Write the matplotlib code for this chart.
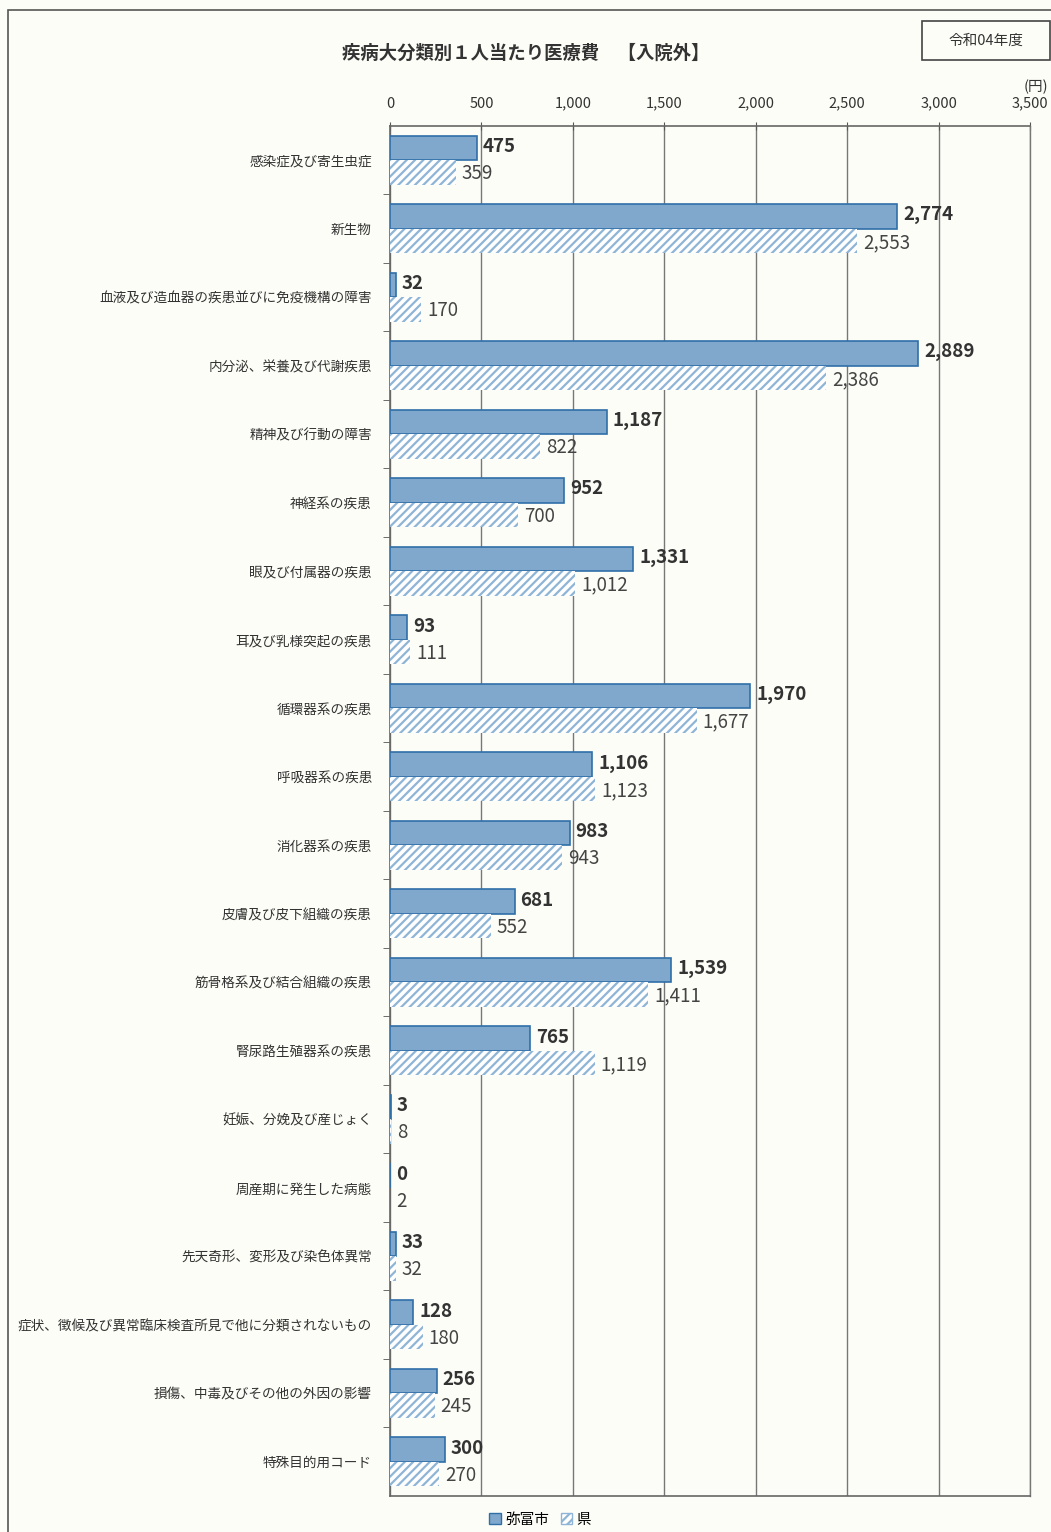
import numpy as np
import matplotlib.pyplot as plt
from matplotlib.patches import Rectangle, Patch

plt.rcParams['font.family'] = ['Noto Sans CJK JP', 'DejaVu Sans']
plt.rcParams['hatch.linewidth'] = 1.6

categories = ['感染症及び寄生虫症', '新生物', '血液及び造血器の疾患並びに免疫機構の障害',
              '内分泌、栄養及び代謝疾患', '精神及び行動の障害', '神経系の疾患',
              '眼及び付属器の疾患', '耳及び乳様突起の疾患', '循環器系の疾患',
              '呼吸器系の疾患', '消化器系の疾患', '皮膚及び皮下組織の疾患',
              '筋骨格系及び結合組織の疾患', '腎尿路生殖器系の疾患', '妊娠、分娩及び産じょく',
              '周産期に発生した病態', '先天奇形、変形及び染色体異常',
              '症状、徴候及び異常臨床検査所見で他に分類されないもの',
              '損傷、中毒及びその他の外因の影響', '特殊目的用コード']
city = [475, 2774, 32, 2889, 1187, 952, 1331, 93, 1970, 1106,
        983, 681, 1539, 765, 3, 0, 33, 128, 256, 300]
pref = [359, 2553, 170, 2386, 822, 700, 1012, 111, 1677, 1123,
        943, 552, 1411, 1119, 8, 2, 32, 180, 245, 270]
xticks = [0, 500, 1000, 1500, 2000, 2500, 3000, 3500]

bg = '#fdfdf8'
fig = plt.figure(figsize=(10.51, 15.32), dpi=100, facecolor=bg)
ax = fig.add_axes([0.3711, 0.0235, 0.609, 0.8943], facecolor=bg)

y = np.arange(len(categories))
h = 0.36
ax.barh(y - h / 2, city, height=h, color='#80a8cc', edgecolor='#2f6fa8', linewidth=1.2, zorder=3)
ax.barh(y + h / 2, pref, height=h, color='white', edgecolor='#8fb5d6', hatch='////', linewidth=0, zorder=3)

for i in range(len(categories)):
    ax.text(city[i] + 32, i - h / 2 - 0.02, f'{city[i]:,}', va='center', ha='left',
            fontsize=13.5, fontweight='bold', color='#333333', zorder=4)
    ax.text(pref[i] + 32, i + h / 2 + 0.02, f'{pref[i]:,}', va='center', ha='left',
            fontsize=13.5, color='#444444', zorder=4)

ax.set_xlim(0, 3500)
ax.set_ylim(len(categories) - 0.5, -0.5)
ax.set_xticks(xticks)
ax.set_xticklabels([f'{v:,}' for v in xticks], fontsize=10.5, color='#333333')
ax.xaxis.tick_top()
ax.tick_params(axis='x', length=6, color='#555555', pad=8, direction='inout')
ax.set_yticks(y)
ax.set_yticklabels(categories, fontsize=9.8, color='#333333')
ax.tick_params(axis='y', which='major', length=0, pad=13)
ax.set_yticks(np.arange(0.5, len(categories) - 1, 1), minor=True)
ax.tick_params(axis='y', which='minor', length=5, color='#555555')
ax.grid(axis='x', color='#777777', linewidth=1.0, zorder=0)
for s in ['left', 'bottom', 'top']:
    ax.spines[s].set_color('#666666')
    ax.spines[s].set_linewidth(1.2)
ax.spines['right'].set_color('#777777')
ax.spines['right'].set_linewidth(1.0)

fig.text(0.5, 0.965, '疾病大分類別１人当たり医療費　【入院外】', ha='center', va='center',
         fontsize=13.2, fontweight='bold', color='#333333')
fig.text(0.997, 0.943, '(円)', ha='right', va='center', fontsize=10.5, color='#333333')

fig.patches.append(Rectangle((0.877, 0.961), 0.122, 0.025, transform=fig.transFigure,
                             facecolor='none', edgecolor='#444444', linewidth=1.2))
fig.text(0.938, 0.9735, '令和04年度', ha='center', va='center', fontsize=10.5, color='#333333')
fig.patches.append(Rectangle((0.008, -0.01), 1.0, 1.0035, transform=fig.transFigure,
                             facecolor='none', edgecolor='#555555', linewidth=1.2))

handles = [Patch(facecolor='#80a8cc', edgecolor='#2f6fa8', label='弥富市'),
           Patch(facecolor='white', edgecolor='#8fb5d6', hatch='////', label='県')]
fig.legend(handles=handles, loc='center', bbox_to_anchor=(0.514, 0.008), ncol=2,
           frameon=False, fontsize=10.5, handlelength=0.8, handleheight=0.8,
           handletextpad=0.3, columnspacing=0.8)

fig.savefig('out.png', dpi=100, facecolor=bg)
